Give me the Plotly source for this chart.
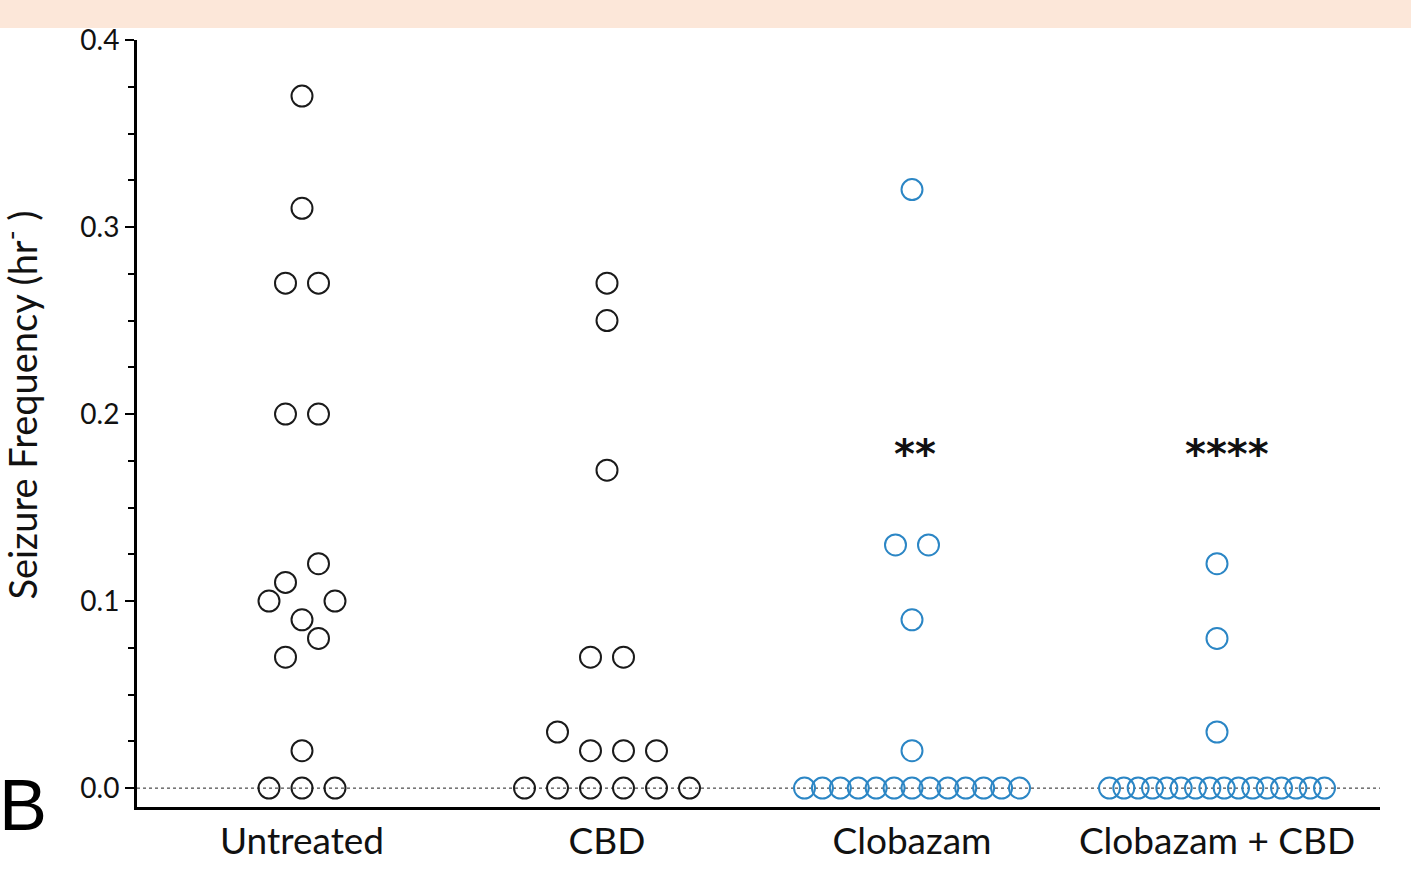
import plotly.graph_objects as go

# ---- data ----
categories = ["Untreated", "CBD", "Clobazam", "Clobazam + CBD"]
untreated = [0.37, 0.31, 0.27, 0.27, 0.20, 0.20, 0.11, 0.12, 0.10, 0.09, 0.10, 0.07, 0.08, 0.02, 0, 0, 0]
cbd = [0.27, 0.25, 0.17, 0.07, 0.07, 0.03, 0.02, 0.02, 0.02, 0, 0, 0, 0, 0, 0]
clobazam = [0.32, 0.13, 0.13, 0.09, 0.02] + [0] * 13
clobazam_cbd = [0.12, 0.08, 0.03] + [0] * 16
significance = ["", "", "**", "****"]
sig_level = 0.182
y_ticks = [0.0, 0.1, 0.2, 0.3, 0.4]

groups = [untreated, cbd, clobazam, clobazam_cbd]
colors = ["#1a1a1a", "#1a1a1a", "#2B86C5", "#2B86C5"]

PX_PER_CAT = 305.0
STEP = 33.0 / PX_PER_CAT
MAX_W = 215.0 / PX_PER_CAT
THRESH = 0.015


def swarm_offsets(values):
    """Column-scatter layout: near-equal values share a centred row."""
    order = sorted(range(len(values)), key=lambda i: values[i])
    rows, cur = [], []
    for i in order:
        if cur and values[i] - values[cur[0]] > THRESH:
            rows.append(cur)
            cur = []
        cur.append(i)
    if cur:
        rows.append(cur)
    offs = [0.0] * len(values)
    for row in rows:
        row = sorted(row)
        m = len(row)
        sp = STEP if m < 2 else min(STEP, MAX_W / (m - 1))
        for k, i in enumerate(row):
            offs[i] = (k - (m - 1) / 2.0) * sp
    return offs


fig = go.Figure()

for gi, vals in enumerate(groups):
    offs = swarm_offsets(vals)
    fig.add_trace(go.Scatter(
        x=[gi + o for o in offs], y=vals, mode="markers",
        marker=dict(symbol="circle-open", size=21, color=colors[gi],
                    line=dict(width=2, color=colors[gi])),
        showlegend=False, cliponaxis=False, hoverinfo="y"))

for gi, s in enumerate(significance):
    if s:
        fig.add_annotation(x=gi + 0.01 + 0.012 * (len(s) - 2), y=sig_level, text="<b>" + s + "</b>",
                           showarrow=False,
                           font=dict(family="DejaVu Sans", size=40, color="#111"),
                           xref="x", yref="y", xanchor="center", yanchor="middle", yshift=-6)

# zero reference line (dotted)
fig.add_shape(type="line", xref="paper", yref="y", x0=0, x1=1, y0=0, y1=0,
              line=dict(color="#222", width=1, dash="dot"), layer="below")

# peach band at top
fig.add_shape(type="rect", xref="paper", yref="paper", x0=-0.2, x1=1.2, y0=1.0155, y1=1.08,
              fillcolor="#FCE7D9", line=dict(width=0), layer="above")

# y-axis title
fig.add_annotation(xref="paper", yref="paper", x=(20 - 137) / 1243.0, y=(812 - 408) / 772.0,
                   xanchor="center", yanchor="middle",
                   text="Seizure Frequency (hr<sup>-</sup> )", textangle=-90, showarrow=False,
                   font=dict(family="Lato", size=38, color="#111"))
# panel letter
fig.add_annotation(xref="paper", yref="paper", x=(23 - 137) / 1243.0, y=(812 - 810) / 772.0,
                   xanchor="center", yanchor="middle",
                   text="B", showarrow=False,
                   font=dict(family="Liberation Sans", size=72, color="#000"))

fig.update_layout(
    width=1411, height=874,
    margin=dict(l=137, r=31, t=40, b=62),
    paper_bgcolor="white", plot_bgcolor="white",
    xaxis=dict(range=[(137 - 302) / PX_PER_CAT, (1380 - 302) / PX_PER_CAT],
               tickvals=list(range(len(categories))), ticktext=categories,
               showline=True, linecolor="#000", linewidth=3, ticks="",
               showgrid=False, zeroline=False,
               tickfont=dict(family="Lato", size=37, color="#111")),
    yaxis=dict(range=[-0.0101, 0.4], tickvals=y_ticks,
               ticktext=["%.1f" % v for v in y_ticks],
               showline=True, linecolor="#000", linewidth=3,
               ticks="outside", ticklen=9, tickwidth=2, tickcolor="#000",
               minor=dict(dtick=0.025, ticks="outside", ticklen=6, tickwidth=2, tickcolor="#000"),
               showgrid=False, zeroline=False,
               tickfont=dict(family="Lato", size=28, color="#111")),
)

fig.write_html("out.html", config={"displayModeBar": False},
               post_script="document.body.style.margin='0';")
